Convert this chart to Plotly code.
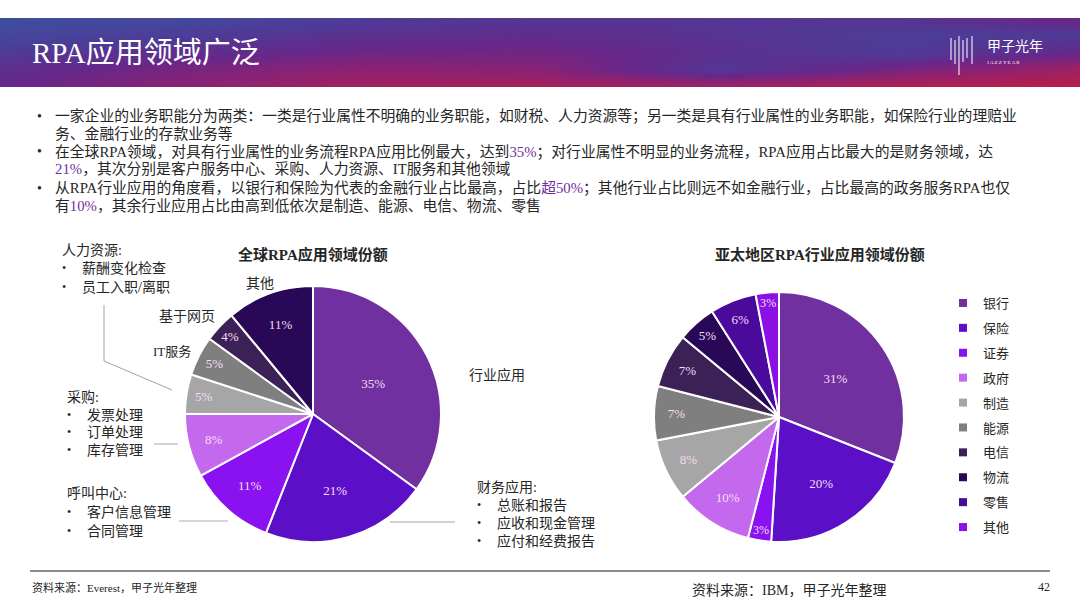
import plotly.graph_objects as go

W, H = 1080, 607
FONT = "Liberation Serif, Noto Sans CJK SC"
TXT = "#262626"
HL = "#7030A0"

# ---------------- data ----------------
g_labels = ["行业应用", "财务应用", "呼叫中心", "采购", "人力资源", "IT服务", "基于网页", "其他"]
g_values = [35, 21, 11, 8, 5, 5, 4, 11]
g_colors = ["#7030A0", "#5B10C8", "#8A12F0", "#C468EE", "#A6A6A6", "#7F7F7F", "#3C2157", "#2A0858"]

a_labels = ["银行", "保险", "证券", "政府", "制造", "能源", "电信", "物流", "零售", "其他"]
a_values = [31, 20, 3, 10, 8, 7, 7, 5, 6, 3]
a_colors = ["#7030A0", "#5B10C8", "#8A12F0", "#C468EE", "#A6A6A6", "#7F7F7F", "#3C2157", "#2A0858", "#4A0A9C", "#8C10E4"]

title_text = "RPA应用领域广泛"
chart1_title = "全球RPA应用领域份额"
chart2_title = "亚太地区RPA行业应用领域份额"

bullet_lines = [
    ("•", "一家企业的业务职能分为两类：一类是行业属性不明确的业务职能，如财税、人力资源等；另一类是具有行业属性的业务职能，如保险行业的理赔业"),
    ("", "务、金融行业的存款业务等"),
    ("•", "在全球RPA领域，对具有行业属性的业务流程RPA应用比例最大，达到<span style='color:#7030A0'>35%</span>；对行业属性不明显的业务流程，RPA应用占比最大的是财务领域，达"),
    ("", "<span style='color:#7030A0'>21%</span>，其次分别是客户服务中心、采购、人力资源、IT服务和其他领域"),
    ("•", "从RPA行业应用的角度看，以银行和保险为代表的金融行业占比最高，占比<span style='color:#7030A0'>超50%</span>；其他行业占比则远不如金融行业，占比最高的政务服务RPA也仅"),
    ("", "有<span style='color:#7030A0'>10%</span>，其余行业应用占比由高到低依次是制造、能源、电信、物流、零售"),
]
bullet_y = [116, 133, 152, 169, 188, 205]

# banner gradient grid (decorative)
ban_x = [0, 180, 360, 540, 720, 900, 1080]
ban_y = [0, 1, 2, 3, 4]
ban_z = [
    [0.05, 0.10, 0.22, 0.30, 0.30, 0.32, 0.50],
    [0.12, 0.22, 0.35, 0.40, 0.32, 0.22, 0.25],
    [0.25, 0.38, 0.50, 0.52, 0.36, 0.25, 0.45],
    [0.38, 0.55, 0.68, 0.64, 0.28, 0.55, 0.80],
    [0.45, 0.65, 0.82, 0.85, 0.80, 0.92, 0.95],
]

def px(x):
    return x / W

def py(y):
    return 1 - y / H

fig = go.Figure()

# banner
fig.add_trace(go.Heatmap(
    x=ban_x, y=ban_y, z=ban_z, zsmooth="best", showscale=False, hoverinfo="skip",
    zmin=0, zmax=1,
    colorscale=[[0, "#3A53A0"], [0.25, "#4F3A96"], [0.45, "#66288A"],
                [0.65, "#8A2274"], [0.85, "#A82058"], [1, "#C21E3C"]],
    xaxis="x", yaxis="y"))

# left pie
fig.add_trace(go.Pie(
    labels=g_labels, values=g_values, sort=False, direction="clockwise", rotation=0,
    marker=dict(colors=g_colors, line=dict(color="white", width=2)),
    texttemplate="%{value}%", textposition="inside", insidetextorientation="horizontal",
    textfont=dict(family=FONT, size=13, color="#F5DDF5"),
    domain=dict(x=[px(185), px(441)], y=[py(542), py(286)]),
    showlegend=False, hoverinfo="label+percent", name="global"))

# right pie
fig.add_trace(go.Pie(
    labels=a_labels, values=a_values, sort=False, direction="clockwise", rotation=0,
    marker=dict(colors=a_colors, line=dict(color="white", width=2)),
    texttemplate="%{value}%", textposition="inside", insidetextorientation="horizontal",
    textfont=dict(family=FONT, size=13, color="#F5DDF5"),
    domain=dict(x=[px(654), px(904)], y=[py(542), py(292)]),
    showlegend=False, hoverinfo="label+percent", name="apac"))

# legend entries for right pie
for lab, col in zip(a_labels, a_colors):
    fig.add_trace(go.Scatter(
        x=[None], y=[None], mode="markers", name=lab, legendgroup=lab,
        marker=dict(symbol="square", size=8, color=col),
        xaxis="x", yaxis="y", hoverinfo="skip"))

ann = []

def add_text(x, y, text, size=14, color=TXT, anchor="left", bold=False):
    ann.append(dict(x=px(x), y=py(y), xref="paper", yref="paper", text=("<b>%s</b>" % text) if bold else text,
                    showarrow=False, xanchor=anchor, yanchor="middle",
                    font=dict(family=FONT, size=size, color=color)))

# title and logo
add_text(30, 53, title_text, size=29, color="white")
add_text(985, 46, "甲子光年", size=14, color="white")
add_text(985, 62, "J A Z Z Y E A R", size=5, color="white")

# bullets
for (b, t), y in zip(bullet_lines, bullet_y):
    if b:
        add_text(35, y, b, size=14)
    add_text(53, y, t, size=14.8)

# chart titles
add_text(313, 255, chart1_title, size=15, anchor="center", bold=True)
add_text(820, 255, chart2_title, size=15, anchor="center", bold=True)

# left chart callouts
add_text(60, 250, "人力资源:", size=14)
add_text(60, 268, "•", size=12)
add_text(80, 268, "薪酬变化检查", size=14)
add_text(60, 287, "•", size=12)
add_text(80, 287, "员工入职/离职", size=14)

add_text(260, 283, "其他", size=14, anchor="center")
add_text(187, 316, "基于网页", size=14, anchor="center")
add_text(172, 351, "IT服务", size=13, anchor="center")

add_text(65, 397, "采购:", size=14)
for yy, t in zip([415, 432, 450], ["发票处理", "订单处理", "库存管理"]):
    add_text(65, yy, "•", size=12)
    add_text(85, yy, t, size=14)

add_text(65, 493, "呼叫中心:", size=14)
for yy, t in zip([512, 531], ["客户信息管理", "合同管理"]):
    add_text(65, yy, "•", size=12)
    add_text(85, yy, t, size=14)

add_text(467, 375, "行业应用", size=14)
add_text(475, 487, "财务应用:", size=14)
for yy, t in zip([505, 523, 541], ["总账和报告", "应收和现金管理", "应付和经费报告"]):
    add_text(475, yy, "•", size=12)
    add_text(495, yy, t, size=14)

# footer
add_text(30, 587, "资料来源：Everest，甲子光年整理", size=11)
add_text(690, 590, "资料来源：IBM，甲子光年整理", size=14)
add_text(1052, 587, "42", size=12, anchor="right")

shapes = []

def line(x0, y0, x1, y1, color="#A6A6A6", width=1):
    shapes.append(dict(type="line", xref="paper", yref="paper", x0=px(x0), y0=py(y0), x1=px(x1), y1=py(y1),
                       line=dict(color=color, width=width)))

# logo strokes
for lx, ly0, ly1 in [(951, 38, 60), (955, 40, 64), (959, 36, 75), (963, 40, 62), (967, 38, 58), (972, 36, 64)]:
    line(lx, ly0, lx, ly1, color="rgba(255,255,255,0.85)", width=1.2)

# callout connectors
line(104, 305, 104, 361, color="#A79BB5")
line(104, 361, 172, 390, color="#A79BB5")
line(154, 444, 178, 444)
line(179, 521, 228, 521, color="#B3A7C0")
line(390, 522, 455, 522, color="#A6A6A6")

# footer rule
line(30, 571, 1050, 571, color="#8C8C8C", width=2)

fig.update_layout(
    width=W, height=H, margin=dict(l=0, r=0, t=0, b=0),
    paper_bgcolor="white", plot_bgcolor="rgba(0,0,0,0)",
    xaxis=dict(domain=[0, 1], range=[0, 1080], visible=False, fixedrange=True),
    yaxis=dict(domain=[py(87), py(18)], range=[4, 0], visible=False, fixedrange=True),
    showlegend=True,
    legend=dict(x=px(943), y=py(288), xanchor="left", yanchor="top", tracegroupgap=5,
                font=dict(family=FONT, size=13, color=TXT), bgcolor="rgba(0,0,0,0)",
                itemclick=False, itemdoubleclick=False),
    annotations=ann, shapes=shapes,
)

fig.write_html("out.html", config={"displayModeBar": False},
               post_script="document.body.style.margin='0';document.body.style.overflow='hidden';")
